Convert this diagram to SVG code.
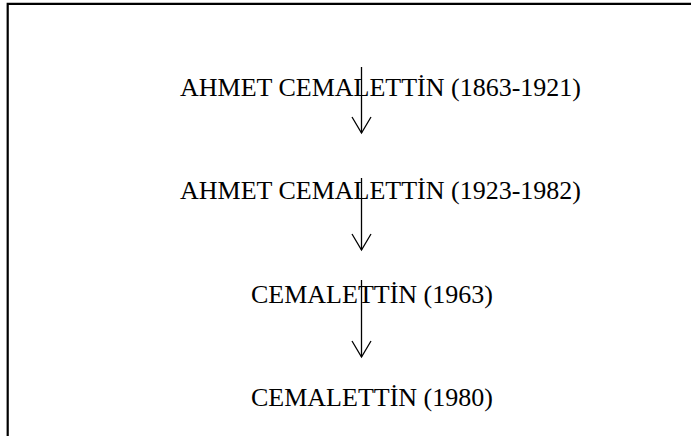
<svg xmlns="http://www.w3.org/2000/svg" width="691" height="436" viewBox="0 0 691 436">
<style>
.t{font-family:"Liberation Serif","Times New Roman",serif;font-size:26px;fill:#000}
.c{stroke:#000;stroke-width:1.3;fill:none}
</style>
<defs>
<marker id="ah" markerUnits="userSpaceOnUse" viewBox="-18 -11 19 22" markerWidth="19" markerHeight="22" refX="0" refY="0" orient="auto" overflow="visible">
<path d="M-16,-9.5 L0,0 L-16,9.5" fill="none" stroke="#000" stroke-width="1.3"/>
</marker>
</defs>
<rect width="691" height="436" fill="#fff"/>
<path d="M7.7,436 V3.8 H691" fill="none" stroke="#000" stroke-width="2.2"/>
<g id="n1"><text class="t" x="180" y="96">AHMET CEMALETTİN (1863-1921)</text></g>
<g id="n2"><text class="t" x="180" y="199">AHMET CEMALETTİN (1923-1982)</text></g>
<g id="n3"><text class="t" x="251" y="302.5">CEMALETTİN (1963)</text></g>
<g id="n4"><text class="t" x="251" y="406">CEMALETTİN (1980)</text></g>
<g id="connectors">
<line class="c" x1="361.5" y1="67" x2="361.5" y2="133" marker-end="url(#ah)"/>
<line class="c" x1="361.5" y1="178" x2="361.5" y2="250" marker-end="url(#ah)"/>
<line class="c" x1="361.5" y1="280" x2="361.5" y2="357" marker-end="url(#ah)"/>
</g>
</svg>
